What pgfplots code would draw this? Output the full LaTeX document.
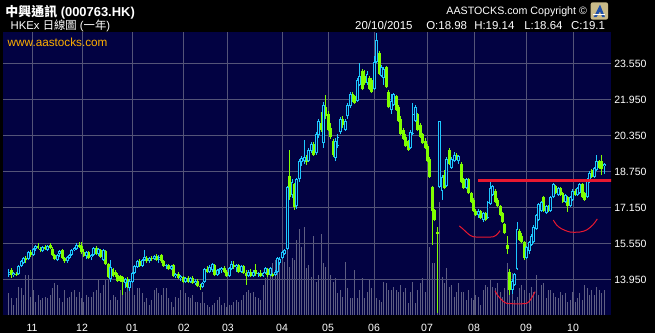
\documentclass[border=0pt]{standalone}
\usepackage{fontspec}
\setmainfont{Liberation Sans}
\newfontfamily\cjk{Noto Sans CJK TC}
\usepackage{pgfplots}
\usepackage{pgfplotstable}
\pgfplotsset{compat=1.18}
\definecolor{bgnavy}{RGB}{2,2,66}
\definecolor{gridc}{RGB}{84,84,120}
\definecolor{volc}{RGB}{94,94,130}
\definecolor{upc}{RGB}{30,200,255}
\definecolor{dnc}{RGB}{128,255,0}
\definecolor{annred}{RGB}{232,24,48}
\definecolor{wwwc}{RGB}{255,176,0}
\definecolor{logobg}{RGB}{200,186,136}
\definecolor{logoblue}{RGB}{30,80,170}

\pgfplotstableread{
i o h l c v
0 14.15 14.40 14.05 14.30 22
1 14.35 14.45 14.00 14.15 17
2 14.15 14.30 14.05 14.25 10
3 14.20 14.30 14.10 14.15 17
4 14.20 14.60 14.15 14.55 28
5 14.55 14.80 14.50 14.75 27
6 14.70 14.95 14.65 14.90 20
7 14.90 15.00 14.70 14.80 40
8 14.85 15.20 14.80 15.15 40
9 15.15 15.25 14.95 15.05 18
10 15.05 15.35 15.00 15.30 25
11 15.30 15.50 15.20 15.45 13
12 15.45 15.55 15.30 15.35 20
13 15.30 15.40 15.15 15.25 15
14 15.20 15.45 15.15 15.40 17
15 15.40 15.50 15.25 15.30 18
16 15.25 15.50 15.20 15.45 17
17 15.50 15.55 15.30 15.35 20
18 15.30 15.40 15.00 15.05 27
19 15.05 15.10 14.80 14.85 32
20 14.80 15.10 14.75 15.05 30
21 15.10 15.25 14.95 15.20 17
22 15.25 15.30 14.85 14.90 13
23 14.90 14.95 14.70 14.75 25
24 14.75 15.00 14.70 14.95 17
25 14.90 15.10 14.85 15.05 18
26 15.05 15.30 15.00 15.25 23
27 15.25 15.40 15.20 15.35 25
28 15.30 15.55 15.25 15.50 18
29 15.50 15.60 15.35 15.40 23
30 15.45 15.60 15.10 15.15 17
31 15.15 15.30 14.95 15.00 13
32 15.00 15.20 14.85 15.15 20
33 15.15 15.20 14.85 14.90 18
34 14.95 15.10 14.80 15.05 18
35 15.05 15.40 15.00 15.35 23
36 15.35 15.45 15.05 15.10 25
37 15.10 15.35 15.00 15.30 35
38 15.25 15.30 14.90 14.95 22
39 14.80 15.30 14.75 15.25 30
40 15.20 15.25 14.60 14.65 35
41 14.65 14.70 14.00 14.05 35
42 13.95 14.80 13.85 14.50 15
43 14.40 14.45 14.05 14.10 20
44 14.30 14.35 14.05 14.15 18
45 14.15 14.25 13.85 13.90 15
46 14.10 14.15 13.85 13.90 25
47 14.05 14.10 13.25 13.85 35
48 13.80 14.00 13.55 13.95 23
49 13.95 14.05 13.55 13.60 33
50 13.55 13.95 13.45 13.90 27
51 13.85 14.30 13.80 14.25 32
52 14.25 14.60 14.20 14.55 20
53 14.50 14.80 14.45 14.75 27
54 14.75 14.85 14.50 14.55 27
55 14.55 14.85 14.50 14.80 22
56 14.80 15.25 14.75 14.95 13
57 14.90 15.00 14.70 14.75 17
58 14.75 14.95 14.70 14.90 10
59 14.90 15.00 14.75 14.85 15
60 14.85 15.05 14.80 15.00 25
61 15.00 15.10 14.75 14.80 27
62 14.80 15.05 14.70 14.95 22
63 15.05 15.10 14.70 14.75 20
64 14.75 14.80 14.50 14.55 27
65 14.55 14.65 14.40 14.60 27
66 14.60 14.65 14.35 14.40 17
67 14.40 14.60 14.35 14.55 13
68 14.60 14.65 14.05 14.10 8
69 14.10 14.25 14.00 14.20 18
70 14.20 14.30 13.95 14.00 17
71 14.00 14.15 13.90 14.10 25
72 14.05 14.10 13.80 13.85 23
73 13.85 14.05 13.80 14.00 22
74 14.00 14.10 13.80 13.85 18
75 13.85 14.05 13.80 14.00 17
76 14.00 14.10 13.75 13.80 20
77 13.80 13.95 13.70 13.90 13
78 13.90 13.95 13.60 13.65 13
79 13.65 13.75 13.50 13.60 12
80 13.60 13.85 13.55 13.80 23
81 13.85 14.45 13.80 14.40 12
82 14.40 14.55 14.25 14.30 10
83 14.30 14.60 14.25 14.50 8
84 14.35 14.70 14.30 14.65 10
85 14.60 14.65 14.10 14.15 12
86 14.15 14.40 14.10 14.35 15
87 14.35 14.45 14.20 14.40 18
88 14.35 14.50 14.25 14.45 10
89 14.45 14.55 14.25 14.30 12
90 14.30 14.35 14.05 14.10 8
91 14.10 14.50 14.05 14.45 10
92 14.40 14.75 14.35 14.65 10
93 14.60 14.75 14.40 14.50 13
94 14.50 14.65 14.30 14.60 15
95 14.60 14.65 14.25 14.30 13
96 14.30 14.60 14.25 14.55 15
97 14.55 14.60 14.20 14.25 20
98 14.25 14.35 13.70 14.10 23
99 14.10 14.35 14.05 14.30 25
100 14.30 14.40 14.05 14.10 22
101 14.10 14.35 14.05 14.30 23
102 14.35 14.65 14.10 14.20 18
103 14.20 14.30 14.05 14.25 17
104 14.25 14.35 14.05 14.10 15
105 14.10 14.30 14.05 14.25 30
106 14.25 14.50 14.20 14.45 37
107 14.40 14.45 14.05 14.15 40
108 14.15 14.50 14.10 14.45 45
109 14.20 14.25 14.05 14.10 52
110 14.15 14.35 14.10 14.30 55
111 14.30 14.95 14.25 14.90 52
112 14.70 14.95 14.60 14.85 55
113 14.90 15.20 14.85 15.15 58
114 15.10 15.30 15.05 15.25 53
115 15.30 18.10 15.25 18.05 85
116 18.55 19.70 17.50 17.60 48
117 17.70 18.40 17.55 18.30 57
118 18.20 18.25 17.05 17.15 55
119 17.20 18.45 17.10 18.40 75
120 18.40 19.30 18.30 19.20 86
121 19.15 19.45 19.00 19.35 68
122 19.20 20.15 19.10 19.40 88
123 19.40 19.50 19.05 19.15 47
124 19.20 19.80 19.15 19.70 50
125 19.65 20.05 19.55 19.95 38
126 19.95 20.05 19.45 19.50 79
127 19.55 20.50 19.50 20.40 33
128 20.35 21.10 20.25 21.00 40
129 20.90 21.40 20.50 20.60 81
130 20.00 21.85 19.80 21.70 52
131 21.60 22.15 21.10 21.20 48
132 21.30 21.45 20.55 20.60 42
133 20.70 20.90 20.20 20.30 40
134 20.10 20.20 19.40 19.50 33
135 19.35 20.25 19.20 20.10 37
136 19.90 20.40 19.80 20.30 22
137 20.50 21.15 20.40 21.10 25
138 21.10 21.20 20.70 20.80 18
139 20.60 21.10 20.55 21.00 53
140 21.20 21.80 21.10 21.70 27
141 21.65 22.30 21.55 22.20 17
142 22.20 22.30 21.85 21.90 17
143 22.10 22.15 21.75 21.80 45
144 21.90 22.90 21.85 22.80 17
145 22.60 23.55 22.55 23.00 25
146 23.20 23.30 22.35 22.40 37
147 23.00 23.25 22.60 22.70 17
148 22.70 23.20 22.60 23.10 23
149 22.90 23.00 22.35 22.40 35
150 22.80 22.90 22.25 22.30 27
151 22.40 23.90 22.35 23.60 15
152 23.60 24.90 23.55 24.60 17
153 24.00 24.10 23.05 23.10 15
154 23.00 23.50 22.95 23.40 13
155 22.90 23.40 22.60 23.30 33
156 23.40 23.45 22.45 22.50 32
157 22.30 22.35 21.55 21.60 25
158 21.50 22.20 21.30 21.90 25
159 21.70 22.25 21.65 22.20 28
160 22.10 22.15 21.45 21.50 25
161 21.60 21.70 20.95 21.00 23
162 21.10 21.20 20.35 20.40 30
163 20.60 20.70 20.15 20.20 23
164 20.30 20.40 19.85 19.90 27
165 20.10 20.15 19.65 19.70 12
166 19.80 20.60 19.75 20.50 23
167 20.40 21.80 20.35 21.30 33
168 21.00 21.70 20.95 21.60 12
169 21.30 21.35 20.55 20.60 25
170 20.80 20.90 20.25 20.30 32
171 20.40 20.45 19.95 20.00 37
172 20.10 20.25 19.75 19.80 23
173 19.90 19.95 19.15 19.20 68
174 19.30 19.40 18.45 18.50 68
175 18.05 18.10 15.50 17.00 52
176 17.05 17.10 16.55 16.60 52
177 16.05 16.30 12.46 15.95 75
178 18.05 21.00 18.00 21.00 113
179 17.90 18.60 17.50 18.50 38
180 18.60 18.80 17.95 18.00 32
181 18.10 19.40 18.05 19.30 47
182 19.70 19.80 19.05 19.10 28
183 18.90 19.40 18.85 19.30 30
184 19.20 19.60 19.15 19.50 18
185 19.50 19.55 19.25 19.30 23
186 19.20 19.50 19.10 19.45 32
187 19.10 19.15 18.25 18.30 23
188 18.40 18.45 17.95 18.00 23
189 18.00 18.45 17.95 18.40 15
190 18.40 18.45 17.75 17.80 25
191 17.80 17.85 17.35 17.40 17
192 17.50 17.55 16.95 17.00 15
193 17.00 17.10 16.75 16.80 20
194 16.80 17.10 16.70 17.00 18
195 17.00 17.05 16.65 16.70 10
196 16.60 16.95 16.50 16.90 25
197 16.90 16.95 16.55 16.60 30
198 16.70 17.45 16.65 17.40 28
199 17.30 18.40 17.25 18.00 35
200 17.70 18.15 17.65 18.10 28
201 17.90 17.95 17.35 17.40 27
202 17.50 17.55 17.15 17.20 32
203 17.20 17.25 16.75 16.80 23
204 16.90 16.95 16.45 16.50 18
205 16.40 16.45 15.95 16.00 27
206 15.50 15.90 15.10 15.30 52
207 14.30 14.40 13.25 13.50 42
208 13.50 13.95 13.30 13.90 42
209 13.70 14.25 13.65 14.20 15
210 14.40 16.50 14.35 16.20 18
211 16.10 16.20 15.65 15.70 27
212 15.90 16.00 15.55 15.60 30
213 15.60 15.65 14.80 14.90 25
214 14.90 15.45 14.85 15.40 32
215 15.20 15.65 15.10 15.60 22
216 15.50 15.95 15.45 15.90 28
217 15.60 16.35 15.55 16.30 23
218 16.20 16.85 16.15 16.80 40
219 16.60 17.35 16.55 17.30 20
220 17.00 17.45 16.95 17.40 30
221 17.60 17.65 16.95 17.00 32
222 16.90 17.25 16.85 17.20 17
223 17.20 17.25 16.95 17.00 25
224 17.00 17.65 16.95 17.60 25
225 17.60 18.25 17.55 18.20 22
226 18.10 18.15 17.75 17.80 18
227 17.70 18.05 17.65 18.00 17
228 18.00 18.05 17.65 17.70 23
229 17.80 17.85 17.35 17.40 20
230 17.40 17.75 17.35 17.70 22
231 17.60 17.65 16.95 17.20 13
232 17.20 17.65 17.15 17.60 15
233 17.50 17.95 17.45 17.90 23
234 17.90 17.95 17.65 17.70 13
235 17.70 18.05 17.65 18.00 17
236 17.80 18.25 17.75 18.20 22
237 18.20 18.25 17.55 17.60 15
238 17.80 17.85 17.45 17.50 30
239 17.60 18.45 17.55 18.40 27
240 18.30 18.75 18.25 18.70 20
241 18.80 18.85 18.45 18.50 25
242 18.50 18.95 18.45 18.90 20
243 18.80 19.50 18.75 19.20 28
244 19.20 19.25 18.85 18.90 25
245 19.20 19.50 18.60 18.85 22
246 18.98 19.14 18.64 19.10 25
}\candles

\pgfplotsset{
  candle/.style n args={2}{only marks, mark size=0pt, mark options={draw=none, fill=none}, error bars/y dir=plus, error bars/y explicit, error bars/error mark=none, error bars/error bar style={#1, line width=#2}},
}

\begin{document}
\begin{tikzpicture}
\useasboundingbox (0,0) rectangle (491.25pt,249.75pt);
\fill[black] (0,0) rectangle (491.25pt,249.75pt);

% background + volume
\begin{axis}[at={(2.25pt,13.5pt)}, anchor=south west, scale only axis,
  width=456pt, height=212.25pt,
  xmin=-2.48, xmax=248.86, ymin=0, ymax=283,
  axis background/.style={fill=bgnavy},
  axis line style={draw=none}, ticks=none]
\addplot[ycomb, volc, line width=0.75pt, mark=none] table[x=i, y=v] {\candles};
\end{axis}

% price
\begin{axis}[at={(2.25pt,13.5pt)}, anchor=south west, scale only axis,
  width=456pt, height=212.25pt,
  xmin=-2.48, xmax=248.86, ymin=12.37, ymax=24.95,
  axis line style={draw=none}, major tick length=0pt, tick style={draw=none},
  grid=major, grid style={gridc, line width=0.75pt},
  xtick={9.51,30.18,50.85,72.34,90.53,112.86,131.87,150.89,172.80,192.23,213.72,233.15},
  xticklabels={11,12,01,02,03,04,05,06,07,08,09,10},
  ytick={13.95,15.55,17.15,18.75,20.35,21.95,23.55},
  yticklabel pos=right,
  tick label style={font=\fontsize{7.9}{9}\selectfont, text=white},
  xticklabel style={yshift=-3.4pt},
  yticklabel style={xshift=-1.1pt, /pgf/number format/fixed, /pgf/number format/fixed zerofill, /pgf/number format/precision=3, /pgf/number format/assume math mode=true},
]
% wicks
\addplot[candle={dnc}{0.75pt}] table[x=i, y=l, y error plus expr={(\thisrow{o}>\thisrow{c})*(\thisrow{h}-\thisrow{l})}] {\candles};
\addplot[candle={upc}{0.75pt}] table[x=i, y=l, y error plus expr={(1-(\thisrow{o}>\thisrow{c}))*(\thisrow{h}-\thisrow{l})}] {\candles};
% bodies
\addplot[candle={dnc}{2.2pt}] table[x=i, y=c, y error plus expr={max(\thisrow{o}-\thisrow{c},0)}] {\candles};
\addplot[candle={upc}{2.2pt}] table[x=i, y=o, y error plus expr={max(\thisrow{c}-\thisrow{o},0)}] {\candles};
\addplot[candle={bgnavy}{0.7pt}] table[x=i, y expr=\thisrow{o}+0.045, y error plus expr={max(\thisrow{c}-\thisrow{o}-0.09,0)}] {\candles};
% annotations
\addplot[annred, line width=2.25pt] coordinates {(193.9,18.33) (249.5,18.33)};
\addplot[annred, line width=0.75pt, smooth] coordinates {(186.15,16.33) (187.8,16.18) (189.9,15.97) (191.9,15.85) (196.1,15.83) (200.2,15.85) (201.9,15.97) (203.0,16.12)};
\addplot[annred, line width=0.75pt, smooth] coordinates {(200.9,13.45) (201.9,13.26) (203.7,13.04) (205.7,12.89) (209.9,12.87) (214.0,12.89) (215.7,13.07) (217.5,13.41)};
\addplot[annred, line width=0.75pt, smooth] coordinates {(225.0,16.59) (226.4,16.37) (228.3,16.21) (231.9,16.06) (236.0,16.06) (238.8,16.15) (241.3,16.37) (243.2,16.64)};
\end{axis}

% header texts
\node[anchor=west, inner sep=0, text=white, font=\fontsize{9.7}{11}\selectfont\bfseries] at (3.9pt,240.9pt) {{\cjk 中興通訊} (000763.HK)};
\node[anchor=west, inner sep=0, text=white, font=\fontsize{8.5}{10}\selectfont] at (7.8pt,230.3pt) {HKEx {\cjk 日線圖} ({\cjk 一年})};
\node[anchor=west, inner sep=0, text=wwwc, font=\fontsize{8.8}{10}\selectfont] at (5.6pt,218.3pt) {www.aastocks.com};
\node[anchor=east, inner sep=0, text=white, font=\fontsize{8}{10}\selectfont] at (440.4pt,240.6pt) {AASTOCKS.com Copyright ©};
\begin{scope}[every node/.style={anchor=west, inner sep=0, text=white, font=\fontsize{8.6}{10}\selectfont}]
\node at (266.2pt,230.4pt) {20/10/2015};
\node at (319.5pt,230.4pt) {O:18.98};
\node at (355.5pt,230.4pt) {H:19.14};
\node at (393.0pt,230.4pt) {L:18.64};
\node at (428.2pt,230.4pt) {C:19.1};
\end{scope}
% logo
\fill[logobg, rounded corners=1.5pt] (443pt,235pt) rectangle (456pt,248pt);
\fill[logoblue] (445.3pt,237pt) -- (450pt,246.3pt) -- (453.7pt,237pt) -- (451.6pt,237pt) -- (450pt,241.2pt) -- (447.4pt,237pt) -- cycle;
\draw[white, line width=0.5pt] (445pt,239pt) -- (454pt,239pt);
\end{tikzpicture}
\end{document}
